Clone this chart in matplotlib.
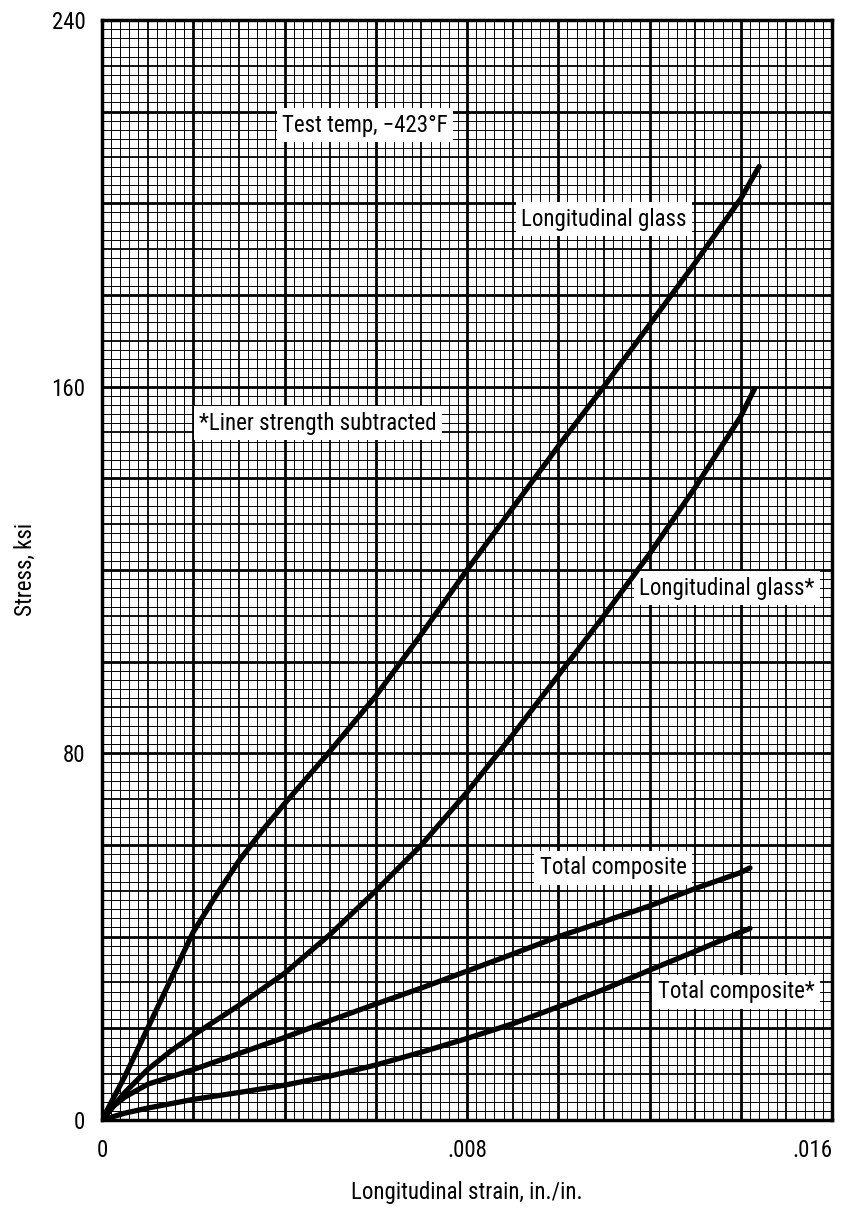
import numpy as np
import matplotlib
matplotlib.use("Agg")
from matplotlib import pyplot as plt
from matplotlib import font_manager

# condensed face like the original figure, if one is installed
names = {f.name for f in font_manager.fontManager.ttflist}
fams = [f for f in ['Liberation Sans Narrow', 'Roboto Condensed', 'Open Sans Condensed'] if f in names]
plt.rcParams['font.family'] = fams + ['DejaVu Sans']
plt.rcParams['font.stretch'] = 'condensed'

# curve data (strain in./in., stress ksi)
lg_strain = [0, .0005, .001, .0015, .002, .0025, .003, .0035, .004, .005, .006, .007,
             .008, .009, .010, .011, .012, .013, .014, .0144]
lg_stress = [0, 9.5, 20, 30.5, 41, 49, 56.5, 63, 69, 80.5, 92.5, 106,
             120, 133.5, 147, 160, 173.5, 187, 201, 208]

lgs_strain = [0, .0005, .001, .0015, .002, .003, .004, .005, .006, .007, .008, .009,
              .010, .011, .012, .013, .014, .0143]
lgs_stress = [0, 6, 11, 15, 18.5, 25, 32, 40.5, 50, 60, 71.5, 84,
              97, 110, 123.5, 138, 153.5, 159.5]

tc_strain = [0, .00025, .0005, .001, .002, .003, .004, .005, .006, .007, .008, .009,
             .010, .011, .012, .013, .014, .0142]
tc_stress = [0, 3, 5, 7.8, 11, 14.5, 18, 21.7, 25.3, 28.8, 32.5, 36.2,
             40, 43.3, 46.7, 50.5, 54, 55]

tcs_strain = [0, .0005, .001, .002, .003, .004, .005, .006, .007, .008, .009,
              .010, .011, .012, .013, .014, .0142]
tcs_stress = [0, 1.5, 2.6, 4.5, 6, 7.6, 9.6, 12, 14.8, 17.8, 21,
              24.7, 28.5, 32.7, 36.8, 41, 41.8]

x_ticks = [0, .008, .016]
x_tick_labels = ['0', '.008', '.016']
y_ticks = [0, 80, 160, 240]

fig = plt.figure(figsize=(8.47, 12.09), dpi=100)
ax = fig.add_axes([0.1204, 0.0736, 0.862, 0.91])
ax.set_xlim(0, .016)
ax.set_ylim(0, 240)

# graph paper: fine lines every .0002 / 2 ksi, heavier every 5th and 10th
for i in range(81):
    lw = 2.0 if i % 10 == 0 else (1.3 if i % 5 == 0 else 0.7)
    ax.axvline(i * .0002, color='black', lw=lw, zorder=1)
for i in range(121):
    lw = 2.0 if i % 10 == 0 else (1.3 if i % 5 == 0 else 0.7)
    ax.axhline(i * 2, color='black', lw=lw, zorder=1)

for xs, ys in [(lg_strain, lg_stress), (lgs_strain, lgs_stress),
               (tc_strain, tc_stress), (tcs_strain, tcs_stress)]:
    ax.plot(xs, ys, color='black', lw=3.8, solid_capstyle='round',
            solid_joinstyle='round', zorder=4)

box = dict(facecolor='white', edgecolor='none', pad=4)
fs = 16.5
ax.text(.00576, 217, 'Test temp, \u2212423\u00b0F', fontsize=fs, ha='center', va='center', bbox=box, zorder=3)
ax.text(.0110, 196.5, 'Longitudinal glass', fontsize=fs, ha='center', va='center', bbox=box, zorder=3)
ax.text(.00473, 152, '*Liner strength subtracted', fontsize=fs, ha='center', va='center', bbox=box, zorder=3)
ax.text(.0137, 116, 'Longitudinal glass*', fontsize=fs, ha='center', va='center', bbox=box, zorder=3)
ax.text(.0112, 55, 'Total composite', fontsize=fs, ha='center', va='center', bbox=box, zorder=3)
ax.text(.0139, 28, 'Total composite*', fontsize=fs, ha='center', va='center', bbox=box, zorder=3)

ax.set_xticks(x_ticks)
ax.set_xticklabels(x_tick_labels)
ax.set_yticks(y_ticks)
ax.tick_params(length=0, labelsize=16.5)
ax.tick_params(axis='x', pad=14)
ax.tick_params(axis='y', pad=12)
ax.get_xticklabels()[-1].set_horizontalalignment('right')
for s in ax.spines.values():
    s.set_linewidth(2.5)
    s.set_zorder(5)

ax.set_xlabel('Longitudinal strain, in./in.', fontsize=16.5, va='center')
ax.xaxis.set_label_coords(0.5, -0.066)
ax.set_ylabel('Stress, ksi', fontsize=16.5, ha='center', va='center')
ax.yaxis.set_label_coords(-0.105, 0.5)

fig.savefig('out.png', dpi=100)
